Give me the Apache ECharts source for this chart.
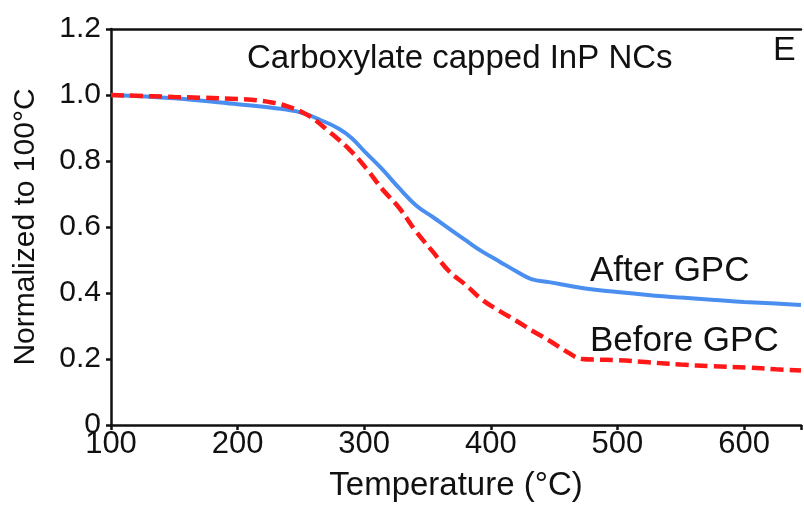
<!DOCTYPE html>
<html><head><meta charset="utf-8">
<script src="https://cdn.jsdelivr.net/npm/echarts@6/dist/echarts.min.js"></script>
<style>html,body{margin:0;padding:0;background:#fff}#c{width:804px;height:507px}</style>
</head><body><div id="c"></div>
<script>
const afterTemp = [100,150,200,230,250,265,280,290,300,314,328,341,355,367,380,393,407,420,432,446,472,500,524,550,577,600,625,645];
const afterVal  = [1.000,0.990,0.972,0.960,0.947,0.925,0.898,0.870,0.830,0.776,0.716,0.665,0.628,0.595,0.560,0.526,0.495,0.466,0.442,0.433,0.415,0.403,0.394,0.386,0.379,0.373,0.368,0.364];
const beforeTemp = [100,150,170,200,220,240,257,272,288,302,314,328,341,354,367,380,393,407,420,433,446,460,472,485,498,525,550,575,603,625,645];
const beforeVal  = [1.000,0.994,0.992,0.988,0.982,0.965,0.935,0.890,0.836,0.776,0.716,0.656,0.586,0.526,0.466,0.425,0.380,0.345,0.316,0.285,0.256,0.222,0.200,0.198,0.197,0.190,0.183,0.178,0.174,0.169,0.165];
const xTicks = [100,200,300,400,500,600];
const yTicks = [0,0.2,0.4,0.6,0.8,1.0,1.2];
const titleText = 'Carboxylate capped InP NCs';
const panelLetter = 'E';
const seriesNames = ['After GPC','Before GPC'];

const FONT = 'Liberation Sans, Arial, sans-serif';
const chart = echarts.init(document.getElementById('c'));
const pair = (xs, ys) => xs.map((x,i)=>[x, ys[i]]);
chart.setOption({
  animation:false,
  backgroundColor:'#fff',
  grid:{left:111, top:29, right:1, bottom:79},
  xAxis:[{
    type:'value', min:100, max:645, interval:100,
    name:'Temperature (°C)', nameLocation:'middle', nameGap:44,
    nameTextStyle:{fontFamily:FONT, fontSize:33, color:'#111'},
    axisLine:{lineStyle:{color:'#111', width:2.5}},
    axisTick:{show:true, length:5, lineStyle:{color:'#111', width:2.5}},
    axisLabel:{fontFamily:FONT, fontSize:31, color:'#111', margin:4,
      formatter:v => xTicks.includes(v) ? String(v) : ''},
    splitLine:{show:false}
  },{
    type:'value', min:100, max:645, position:'top',
    axisLine:{lineStyle:{color:'#111', width:2.5}},
    axisTick:{show:false}, axisLabel:{show:false}, splitLine:{show:false}
  }],
  yAxis:{
    type:'value', min:0, max:1.2, interval:0.2,
    name:'Normalized to 100°C', nameLocation:'middle', nameGap:70,
    nameTextStyle:{fontFamily:FONT, fontSize:30, color:'#111'},
    axisLine:{show:true, lineStyle:{color:'#111', width:2.5}},
    axisTick:{show:true, length:5, lineStyle:{color:'#111', width:2.5}},
    axisLabel:{fontFamily:FONT, fontSize:30, color:'#111', margin:10,
      formatter:v => { const t = yTicks.find(k=>Math.abs(k-v)<1e-6); return t===undefined ? '' : (t===0 ? '0' : t.toFixed(1)); }},
    splitLine:{show:false}
  },
  series:[{
    name:seriesNames[0], type:'line', smooth:0.4, symbol:'none',
    data:pair(afterTemp, afterVal),
    lineStyle:{color:'#4a8ff0', width:4}
  },{
    name:seriesNames[1], type:'line', smooth:0.4, symbol:'none',
    data:pair(beforeTemp, beforeVal),
    lineStyle:{color:'#ff1818', width:4.5, type:[13,6]}
  }],
  graphic:[
    {type:'text', x:247, y:59, style:{text:titleText, font:'33px '+FONT, fill:'#111', verticalAlign:'middle'}},
    {type:'text', x:773, y:51, style:{text:panelLetter, font:'34px '+FONT, fill:'#111', verticalAlign:'middle'}},
    {type:'text', x:590, y:271, style:{text:seriesNames[0], font:'35px '+FONT, fill:'#111', verticalAlign:'middle'}},
    {type:'text', x:590, y:341, style:{text:seriesNames[1], font:'35px '+FONT, fill:'#111', verticalAlign:'middle'}}
  ]
});
</script></body></html>
